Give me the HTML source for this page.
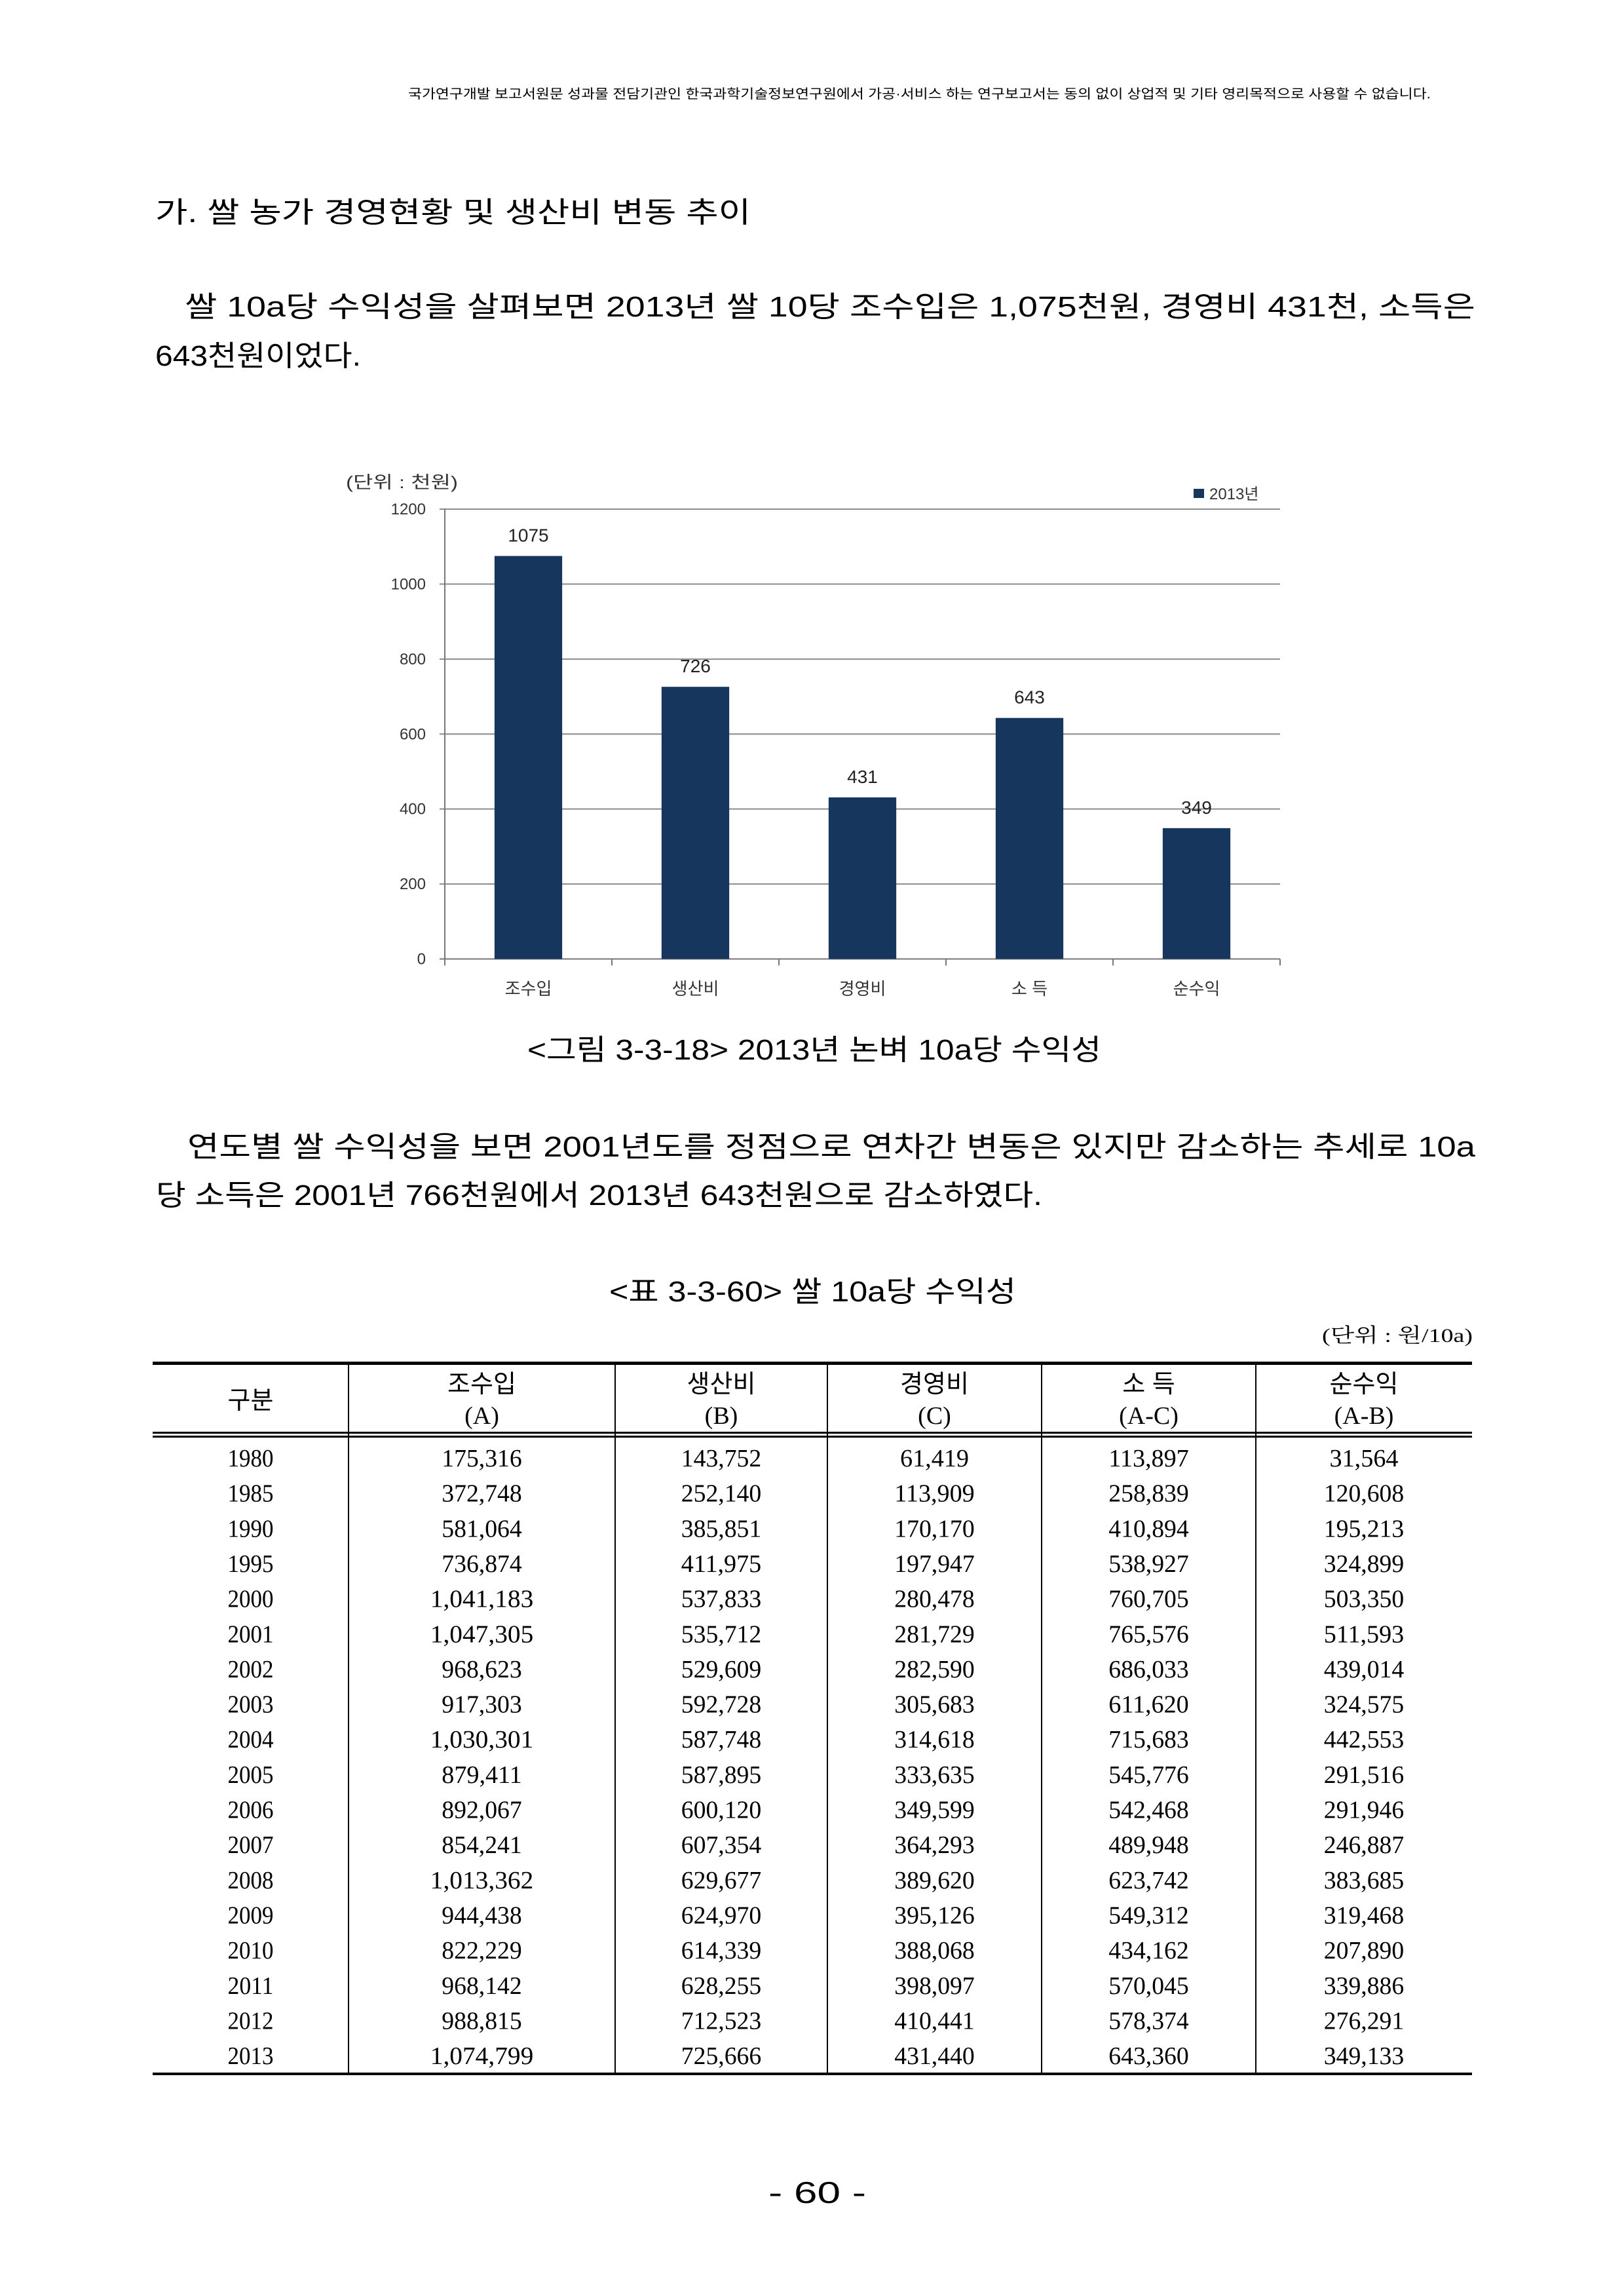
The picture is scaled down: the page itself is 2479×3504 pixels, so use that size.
<!DOCTYPE html>
<html><head><meta charset="utf-8">
<style>
html,body{margin:0;padding:0;background:#fff;}
svg{display:block;}
.k{font-family:"Liberation Sans","Noto Sans CJK KR",sans-serif;}
.s{font-family:"Liberation Serif","Noto Serif CJK SC",serif;}
</style></head>
<body>
<svg id="page" width="2479" height="3504" viewBox="0 0 2479 3504" xmlns="http://www.w3.org/2000/svg">
<rect width="2479" height="3504" fill="#fff"/>
<text class="k" x="623" y="150" font-size="20" textLength="1561" lengthAdjust="spacingAndGlyphs">국가연구개발 보고서원문 성과물 전담기관인 한국과학기술정보연구원에서 가공·서비스 하는 연구보고서는 동의 없이 상업적 및 기타 영리목적으로 사용할 수 없습니다.</text>
<text class="k" x="237" y="339" font-size="44" textLength="909" lengthAdjust="spacingAndGlyphs">가. 쌀 농가 경영현황 및 생산비 변동 추이</text>
<text class="k" x="282" y="483" font-size="44" textLength="1970" lengthAdjust="spacingAndGlyphs">쌀 10a당 수익성을 살펴보면 2013년 쌀 10당 조수입은 1,075천원, 경영비 431천, 소득은</text>
<text class="k" x="237" y="558" font-size="44" textLength="314" lengthAdjust="spacingAndGlyphs">643천원이었다.</text>

<g id="chart"></g>

<text class="k" x="805" y="1617" font-size="44" textLength="876" lengthAdjust="spacingAndGlyphs">&lt;그림 3-3-18&gt; 2013년 논벼 10a당 수익성</text>
<text class="k" x="286" y="1765" font-size="44" textLength="1966" lengthAdjust="spacingAndGlyphs">연도별 쌀 수익성을 보면 2001년도를 정점으로 연차간 변동은 있지만 감소하는 추세로 10a</text>
<text class="k" x="238" y="1839" font-size="44" textLength="1353" lengthAdjust="spacingAndGlyphs">당 소득은 2001년 766천원에서 2013년 643천원으로 감소하였다.</text>
<text class="k" x="930" y="1986" font-size="44" textLength="621" lengthAdjust="spacingAndGlyphs">&lt;표 3-3-60&gt; 쌀 10a당 수익성</text>
<text class="s" x="2018" y="2048" font-size="30" textLength="230" lengthAdjust="spacingAndGlyphs">(단위 : 원/10a)</text>

<g id="table"></g>

<text class="k" x="1173" y="3362" font-size="46" textLength="149" lengthAdjust="spacingAndGlyphs">- 60 -</text>
</svg>
<script>
const categories = ["조수입","생산비","경영비","소 득","순수익"];
const values2013 = [1075,726,431,643,349];
const yTicks = [0,200,400,600,800,1000,1200];

const years = ["1980","1985","1990","1995","2000","2001","2002","2003","2004","2005","2006","2007","2008","2009","2010","2011","2012","2013"];
const grossIncome = ["175,316","372,748","581,064","736,874","1,041,183","1,047,305","968,623","917,303","1,030,301","879,411","892,067","854,241","1,013,362","944,438","822,229","968,142","988,815","1,074,799"];
const productionCost = ["143,752","252,140","385,851","411,975","537,833","535,712","529,609","592,728","587,748","587,895","600,120","607,354","629,677","624,970","614,339","628,255","712,523","725,666"];
const managementCost = ["61,419","113,909","170,170","197,947","280,478","281,729","282,590","305,683","314,618","333,635","349,599","364,293","389,620","395,126","388,068","398,097","410,441","431,440"];
const incomeVals = ["113,897","258,839","410,894","538,927","760,705","765,576","686,033","611,620","715,683","545,776","542,468","489,948","623,742","549,312","434,162","570,045","578,374","643,360"];
const netProfit = ["31,564","120,608","195,213","324,899","503,350","511,593","439,014","324,575","442,553","291,516","291,946","246,887","383,685","319,468","207,890","339,886","276,291","349,133"];

const NS="http://www.w3.org/2000/svg";
function mk(tag, attrs, parent, txt){
  const e=document.createElementNS(NS,tag);
  for(const k in attrs) e.setAttribute(k,attrs[k]);
  if(txt!==undefined) e.textContent=txt;
  parent.appendChild(e); return e;
}
// chart
const chart=document.getElementById('chart');
const X0=679,X1=1954,Y0=1463.5,Ytop=777,YMAX=1200;
const yS=v=>Y0-(v/YMAX)*(Y0-Ytop);
const band=(X1-X0)/categories.length;
const xC=i=>X0+band*(i+0.5);
const unitT=mk('text',{x:528,y:745,'font-size':26,fill:'#333',class:'k',textLength:171,lengthAdjust:'spacingAndGlyphs'},chart,'(단위 : 천원)');


yTicks.forEach(v=>{
  const y=yS(v);
  const l=mk('line',{x1:X0-8,x2:X1,y1:y,y2:y,stroke:v===0?'#777':'#8c8c8c','stroke-width':2},chart);
  
  
  const tx=mk('text',{x:650,y:y+8,'font-size':24,'text-anchor':'end',fill:'#333',class:'k'},chart,String(v));
  
  
});
const yAxisLine=mk('line',{x1:X0,x2:X0,y1:Ytop,y2:Y0+8,stroke:'#777','stroke-width':2},chart);


for(let i=0;i<=categories.length;i++){
  const x=X0+band*i;
  const tk=mk('line',{x1:x,x2:x,y1:Y0,y2:Y0+10,stroke:'#777','stroke-width':2},chart);
  
  
}
categories.forEach((c,i)=>{
  const bw=band*0.405, v=values2013[i];
  const r=mk('rect',{x:xC(i)-bw/2,y:yS(v),width:bw,height:Y0-yS(v),fill:'#17365d'},chart);
  
  
  const vl=mk('text',{x:xC(i),y:yS(v)-22,'font-size':28,'text-anchor':'middle',fill:'#222',class:'k'},chart,String(v));
  
  
  const cl=mk('text',{x:xC(i),y:1518,'font-size':26,'text-anchor':'middle',fill:'#333',class:'k'},chart,c);
  
  
});
const lgSw=mk('rect',{x:1822,y:746,width:16,height:14,fill:'#17365d'},chart);


const lgT=mk('text',{x:1846,y:762,'font-size':24,fill:'#333',class:'k'},chart,'2013년');



// table
const tb=document.getElementById('table');
const TL=233,TR=2247,tableTop=2078,tableBot=3167;
const colEdges=[TL,532,939,1263,1590,1917,TR];
mk('rect',{x:TL,y:tableTop,width:TR-TL,height:5,fill:'#000'},tb);
mk('rect',{x:TL,y:2185,width:TR-TL,height:3,fill:'#000'},tb);
mk('rect',{x:TL,y:2191,width:TR-TL,height:3,fill:'#000'},tb);
mk('rect',{x:TL,y:tableBot-4,width:TR-TL,height:4,fill:'#000'},tb);
colEdges.slice(1,6).forEach(x=>mk('rect',{x:x-1,y:tableTop,width:2,height:tableBot-tableTop,fill:'#000'},tb));
const cx=i=>(colEdges[i]+colEdges[i+1])/2;
const hY=mk('text',{x:cx(0),y:2150,'font-size':38,'text-anchor':'middle',class:'k'},tb,'구분');


const heads=[['조수입','(A)'],['생산비','(B)'],['경영비','(C)'],['소 득','(A-C)'],['순수익','(A-B)']];
heads.forEach((hh,i)=>{
  const a=mk('text',{x:cx(i+1),y:2125,'font-size':38,'text-anchor':'middle',class:'k'},tb,hh[0]);
  
  
  const b=mk('text',{x:cx(i+1),y:2173,'font-size':38,'text-anchor':'middle',class:'s'},tb,hh[1]);
  
  
});
const colsData=[years,grossIncome,productionCost,managementCost,incomeVals,netProfit];
years.forEach((y,r)=>{
  const yy=2225+r*53.65+13;
  colsData.forEach((arr,c)=>{
    const w=arr[r].length*17.5;
    const e=mk('text',{x:cx(c),y:yy,'font-size':38,'text-anchor':'middle',class:'s',textLength:w,lengthAdjust:'spacingAndGlyphs'},tb,arr[r]);
    
    
  });
});
</script>
</body></html>
